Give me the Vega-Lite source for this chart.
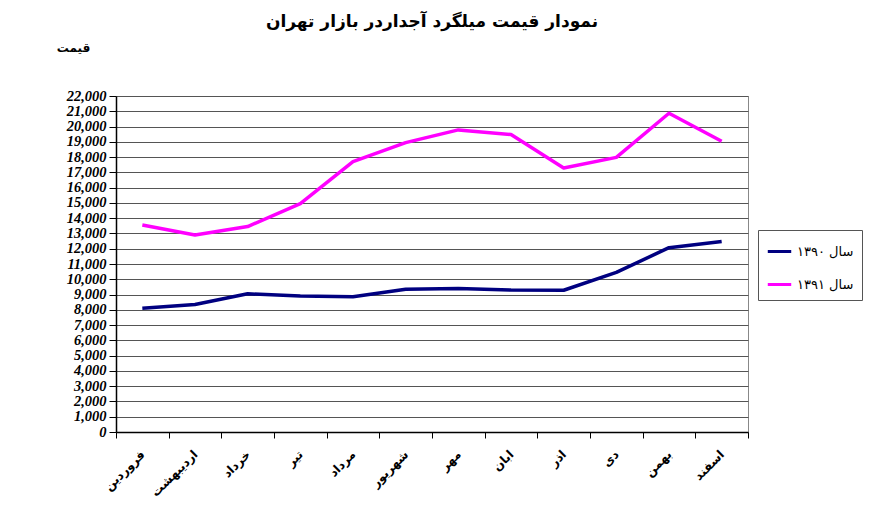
{
  "$schema": "https://vega.github.io/schema/vega-lite/v6.json",
  "width": 632,
  "height": 336,
  "autosize": {"type": "none"},
  "padding": {"left": 116, "top": 96, "right": 132, "bottom": 80},
  "background": "white",
  "title": {
    "text": "نمودار قیمت میلگرد آجداردر بازار تهران",
    "anchor": "middle",
    "font": "DejaVu Sans",
    "fontSize": 17,
    "fontWeight": "bold",
    "color": "#000",
    "offset": 10
  },
  "config": {
    "view": {"stroke": "#888", "strokeWidth": 1},
    "axis": {"labelColor": "#000", "titleColor": "#000"}
  },
  "data": {
    "values": [
      {"month": "فروردین", "series": "سال ۱۳۹۰", "price": 8100},
      {"month": "اردیبهشت", "series": "سال ۱۳۹۰", "price": 8350},
      {"month": "خرداد", "series": "سال ۱۳۹۰", "price": 9050},
      {"month": "تیر", "series": "سال ۱۳۹۰", "price": 8900},
      {"month": "مرداد", "series": "سال ۱۳۹۰", "price": 8850},
      {"month": "شهریور", "series": "سال ۱۳۹۰", "price": 9350},
      {"month": "مهر", "series": "سال ۱۳۹۰", "price": 9400},
      {"month": "ابان", "series": "سال ۱۳۹۰", "price": 9300},
      {"month": "اذر", "series": "سال ۱۳۹۰", "price": 9280},
      {"month": "دی", "series": "سال ۱۳۹۰", "price": 10450},
      {"month": "بهمن", "series": "سال ۱۳۹۰", "price": 12070},
      {"month": "اسفند", "series": "سال ۱۳۹۰", "price": 12480},
      {"month": "فروردین", "series": "سال ۱۳۹۱", "price": 13550},
      {"month": "اردیبهشت", "series": "سال ۱۳۹۱", "price": 12900},
      {"month": "خرداد", "series": "سال ۱۳۹۱", "price": 13450},
      {"month": "تیر", "series": "سال ۱۳۹۱", "price": 14950},
      {"month": "مرداد", "series": "سال ۱۳۹۱", "price": 17700},
      {"month": "شهریور", "series": "سال ۱۳۹۱", "price": 18950},
      {"month": "مهر", "series": "سال ۱۳۹۱", "price": 19780},
      {"month": "ابان", "series": "سال ۱۳۹۱", "price": 19480},
      {"month": "اذر", "series": "سال ۱۳۹۱", "price": 17280},
      {"month": "دی", "series": "سال ۱۳۹۱", "price": 17980},
      {"month": "بهمن", "series": "سال ۱۳۹۱", "price": 20870},
      {"month": "اسفند", "series": "سال ۱۳۹۱", "price": 19040}
    ]
  },
  "mark": {"type": "line", "strokeWidth": 3.5, "strokeJoin": "round"},
  "encoding": {
    "x": {
      "field": "month",
      "type": "nominal",
      "sort": null,
      "scale": {"paddingInner": 0, "paddingOuter": 0},
      "axis": {
        "title": null,
        "labelAngle": -45,
        "labelAlign": "right",
        "labelBaseline": "middle",
        "labelPadding": 14,
        "labelFont": "DejaVu Sans",
        "labelFontSize": 12,
        "labelFontWeight": "bold",
        "labelOverlap": false,
        "tickBand": "extent",
        "tickSize": 6,
        "tickColor": "#000",
        "domainColor": "#000",
        "domainWidth": 1.5,
        "grid": false
      }
    },
    "y": {
      "field": "price",
      "type": "quantitative",
      "scale": {"domain": [0, 22000], "nice": false},
      "axis": {
        "values": [0,1000,2000,3000,4000,5000,6000,7000,8000,9000,10000,11000,12000,13000,14000,15000,16000,17000,18000,19000,20000,21000,22000],
        "format": ",d",
        "labelFont": "Liberation Serif",
        "labelFontSize": 14.5,
        "labelFontStyle": "italic",
        "labelFontWeight": "bold",
        "labelOverlap": false,
        "labelPadding": 3,
        "tickSize": 7,
        "tickColor": "#000",
        "domainColor": "#000",
        "domainWidth": 1.5,
        "grid": true,
        "gridColor": "#555",
        "gridWidth": 1,
        "title": "قیمت",
        "titleAngle": 0,
        "titleFont": "DejaVu Sans",
        "titleFontSize": 12,
        "titleFontWeight": "bold",
        "titleAlign": "center",
        "titleBaseline": "middle",
        "titleX": -43,
        "titleY": -49
      }
    },
    "color": {
      "field": "series",
      "type": "nominal",
      "scale": {"domain": ["سال ۱۳۹۰", "سال ۱۳۹۱"], "range": ["#000080", "#FF00FF"]},
      "legend": {
        "title": null,
        "orient": "none",
        "legendX": 642,
        "legendY": 134,
        "strokeColor": "#555",
        "fillColor": "white",
        "padding": 8,
        "symbolType": "stroke",
        "symbolSize": 550,
        "symbolStrokeWidth": 3,
        "labelFont": "DejaVu Sans",
        "labelFontSize": 13,
        "labelColor": "#000",
        "rowPadding": 12,
        "labelOffset": 4
      }
    }
  }
}
